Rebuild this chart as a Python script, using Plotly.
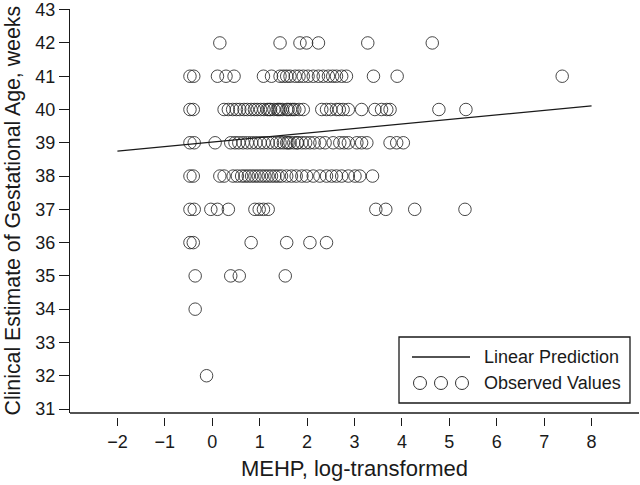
import plotly.graph_objects as go

# MEHP (log-transformed) values of observed points, grouped by gestational age (weeks)
mehp_42 = [0.16, 1.43, 1.85, 1.99, 2.24, 3.28, 4.64]
mehp_41 = [-0.47, -0.39, 0.11, 0.29, 0.46, 1.08, 1.25, 1.43, 1.50, 1.57, 1.64, 1.75,
           1.83, 1.92, 2.02, 2.13, 2.24, 2.34, 2.45, 2.54, 2.62, 2.73, 2.83, 3.40,
           3.90, 7.38]
mehp_40 = [-0.47, -0.40, 0.25, 0.34, 0.43, 0.51, 0.58, 0.67, 0.74, 0.82, 0.89, 0.95,
           1.02, 1.09, 1.16, 1.20, 1.23, 1.30, 1.37, 1.40, 1.43, 1.48, 1.57, 1.60,
           1.65, 1.70, 1.74, 1.83, 1.92, 2.31, 2.41, 2.50, 2.62, 2.68, 2.76, 2.87,
           3.15, 3.43, 3.57, 3.68, 3.75, 4.78, 5.35]
mehp_39 = [-0.47, -0.38, 0.06, 0.39, 0.48, 0.56, 0.65, 0.74, 0.83, 0.92, 1.01, 1.09,
           1.18, 1.27, 1.36, 1.43, 1.50, 1.57, 1.60, 1.64, 1.72, 1.79, 1.80, 1.89,
           1.97, 2.06, 2.15, 2.27, 2.38, 2.55, 2.69, 2.78, 2.87, 3.05, 3.15, 3.26,
           3.75, 3.89, 4.03]
mehp_38 = [-0.47, -0.40, 0.16, 0.25, 0.44, 0.53, 0.62, 0.69, 0.76, 0.83, 0.90, 0.97,
           1.04, 1.11, 1.18, 1.25, 1.32, 1.39, 1.46, 1.57, 1.67, 1.77, 1.89, 1.99,
           2.13, 2.27, 2.41, 2.52, 2.62, 2.73, 2.87, 3.01, 3.11, 3.38]
mehp_37 = [-0.47, -0.38, -0.03, 0.11, 0.34, 0.90, 0.99, 1.08, 1.18, 3.45, 3.66, 4.27, 5.33]
mehp_36 = [-0.47, -0.40, 0.82, 1.57, 2.06, 2.41]
mehp_35 = [-0.36, 0.39, 0.57, 1.54]
mehp_34 = [-0.36]
mehp_32 = [-0.12]

rows = {42: mehp_42, 41: mehp_41, 40: mehp_40, 39: mehp_39, 38: mehp_38,
        37: mehp_37, 36: mehp_36, 35: mehp_35, 34: mehp_34, 32: mehp_32}

obs_x = []
obs_y = []
for weeks, vals in rows.items():
    obs_x += vals
    obs_y += [weeks] * len(vals)

# linear prediction end points
pred_x = [-2, 8]
pred_y = [38.75, 40.11]

x_ticks = list(range(-2, 9))
y_ticks = list(range(31, 44))

FONT = 'Liberation Sans, Arial, sans-serif'
INK = '#1a1a1a'

fig = go.Figure()

fig.add_trace(
    go.Scatter(
        x=obs_x,
        y=obs_y,
        mode='markers',
        marker=dict(symbol='circle-open', size=12.5, color='rgba(40,40,40,0.85)',
                    line=dict(width=1)),
        name='Observed Values',
        showlegend=False,
        hoverinfo='skip'
    )
)

fig.add_trace(
    go.Scatter(
        x=pred_x,
        y=pred_y,
        mode='lines',
        line=dict(color=INK, width=1.3),
        name='Linear Prediction',
        showlegend=False,
        hoverinfo='skip'
    )
)

# plot-area geometry in pixels (used for the hand-drawn legend and y title)
W, H = 640, 485
ML, MR, MT, MB = 70, 1, 9, 68
pw = W - ML - MR
ph = H - MT - MB


def px(x):
    return (x - ML) / pw


def py(y):
    return (H - MB - y) / ph


# legend box, line sample and three circles
shapes = [
    dict(type='rect', xref='paper', yref='paper',
         x0=px(399), x1=px(630), y0=py(403), y1=py(337),
         line=dict(color=INK, width=1.3), fillcolor='white'),
    dict(type='line', xref='paper', yref='paper',
         x0=px(412), x1=px(470), y0=py(357), y1=py(357),
         line=dict(color=INK, width=1.3)),
    # x-axis line sits slightly above the ticks
    dict(type='line', xref='paper', yref='y domain',
         x0=0, x1=1, y0=0, y1=0, line=dict(color=INK, width=1.3)),
]
for cx in [420, 441, 462]:
    shapes.append(dict(type='circle', xref='paper', yref='paper',
                       xsizemode='pixel', ysizemode='pixel',
                       xanchor=px(cx), yanchor=py(383),
                       x0=-6.5, x1=6.5, y0=-6.5, y1=6.5,
                       line=dict(color='#333333', width=1)))

annotations = [
    dict(text='Linear Prediction', xref='paper', yref='paper',
         x=px(482), y=py(357), xanchor='left', yanchor='middle', showarrow=False,
         font=dict(family=FONT, size=18, color=INK)),
    dict(text='Observed Values', xref='paper', yref='paper',
         x=px(482), y=py(383), xanchor='left', yanchor='middle', showarrow=False,
         font=dict(family=FONT, size=18, color=INK)),
    dict(text='Clinical Estimate of Gestational Age, weeks', xref='paper', yref='paper',
         x=px(12.5), y=py(211), xanchor='center', yanchor='middle', textangle=-90,
         showarrow=False, font=dict(family=FONT, size=21.3, color=INK)),
]

fig.update_layout(
    width=W,
    height=H,
    margin=dict(l=ML, r=MR, t=MT, b=MB, pad=0),
    paper_bgcolor='white',
    plot_bgcolor='white',
    font=dict(family=FONT, color=INK),
    showlegend=False,
    shapes=shapes,
    annotations=annotations,
    xaxis=dict(
        range=[-3, 9],
        anchor='free',
        position=0,
        tickvals=x_ticks,
        ticktext=[str(v).replace('-', '\u2212') for v in x_ticks],
        ticks='outside',
        ticklen=8,
        tickwidth=1.3,
        tickcolor=INK,
        tickfont=dict(size=18),
        showline=False,
        showgrid=False,
        zeroline=False,
        title=dict(text='MEHP, log-transformed', font=dict(size=22), standoff=10),
    ),
    yaxis=dict(
        range=[30.88, 43.02],
        domain=[4 / ph, 1],
        tickvals=y_ticks,
        ticks='outside',
        ticklen=10,
        tickwidth=1.3,
        tickcolor=INK,
        tickfont=dict(size=18),
        ticklabeloverflow='allow',
        showline=True,
        linecolor=INK,
        linewidth=1.3,
        showgrid=False,
        zeroline=False,
    ),
)

# drop the default page margin so the figure sits at the window's corner
fig.write_html('out.html', config={'displayModeBar': False},
               post_script="document.body.style.margin='0';")
